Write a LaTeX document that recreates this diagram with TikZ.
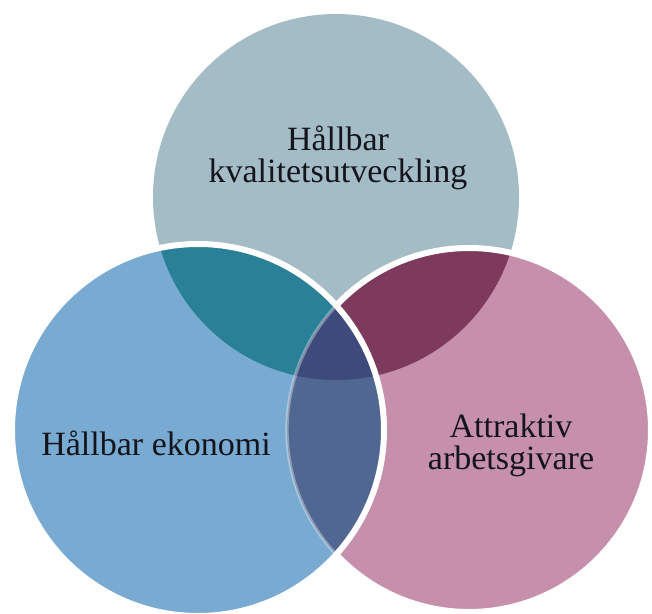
\documentclass[tikz,border=0pt]{standalone}
\usepackage{fontspec}
\setmainfont{Liberation Serif}
\definecolor{topfill}{RGB}{164,188,198}
\definecolor{leftfill}{RGB}{120,170,210}
\definecolor{rightfill}{RGB}{198,144,172}
\definecolor{tlfill}{RGB}{42,128,150}
\definecolor{trfill}{RGB}{125,58,92}
\definecolor{lrfill}{RGB}{80,104,145}
\definecolor{midfill}{RGB}{62,74,124}
\definecolor{ink}{RGB}{20,20,28}
\begin{document}
\begin{tikzpicture}[x=0.75pt,y=-0.75pt,
  rim/.style={draw=white,line width=4.5pt},
  label/.style={font=\fontsize{25.5}{24}\selectfont,align=center,text=ink}]
\useasboundingbox (0,0) rectangle (652,613);
\fill[white] (0,0) rectangle (652,613);
\def\circtop{(336,197) circle (183)}
\def\circleft{(198,430) circle (186)}
\def\circright{(469,430) circle (182)}
% single circles
\fill[topfill] \circtop;
\fill[leftfill] \circleft;
\fill[rightfill] \circright;
% overlaps
\begin{scope}
  \clip \circtop;
  \fill[tlfill] \circleft;
  \fill[trfill] \circright;
\end{scope}
\begin{scope}
  \clip \circleft;
  \fill[lrfill] \circright;
\end{scope}
\begin{scope}
  \clip \circtop;
  \clip \circleft;
  \fill[midfill] \circright;
\end{scope}
% rims
\begin{scope}[even odd rule]
  \clip (-20,-20) rectangle (672,633) \circleft;
  \draw[rim] \circright;
\end{scope}
\begin{scope}
  \clip \circleft;
  \draw[rim,line width=2.5pt,draw opacity=0.35] \circright;
\end{scope}
\draw[rim] \circleft;
% labels
\node[label] (quality) at (338,158) {Hållbar\\kvalitetsutveckling};
\node[label,anchor=base] (economy) at (156,455) {Hållbar ekonomi};
\node[label] (employer) at (511,445) {Attraktiv\\arbetsgivare};
\end{tikzpicture}
\end{document}
